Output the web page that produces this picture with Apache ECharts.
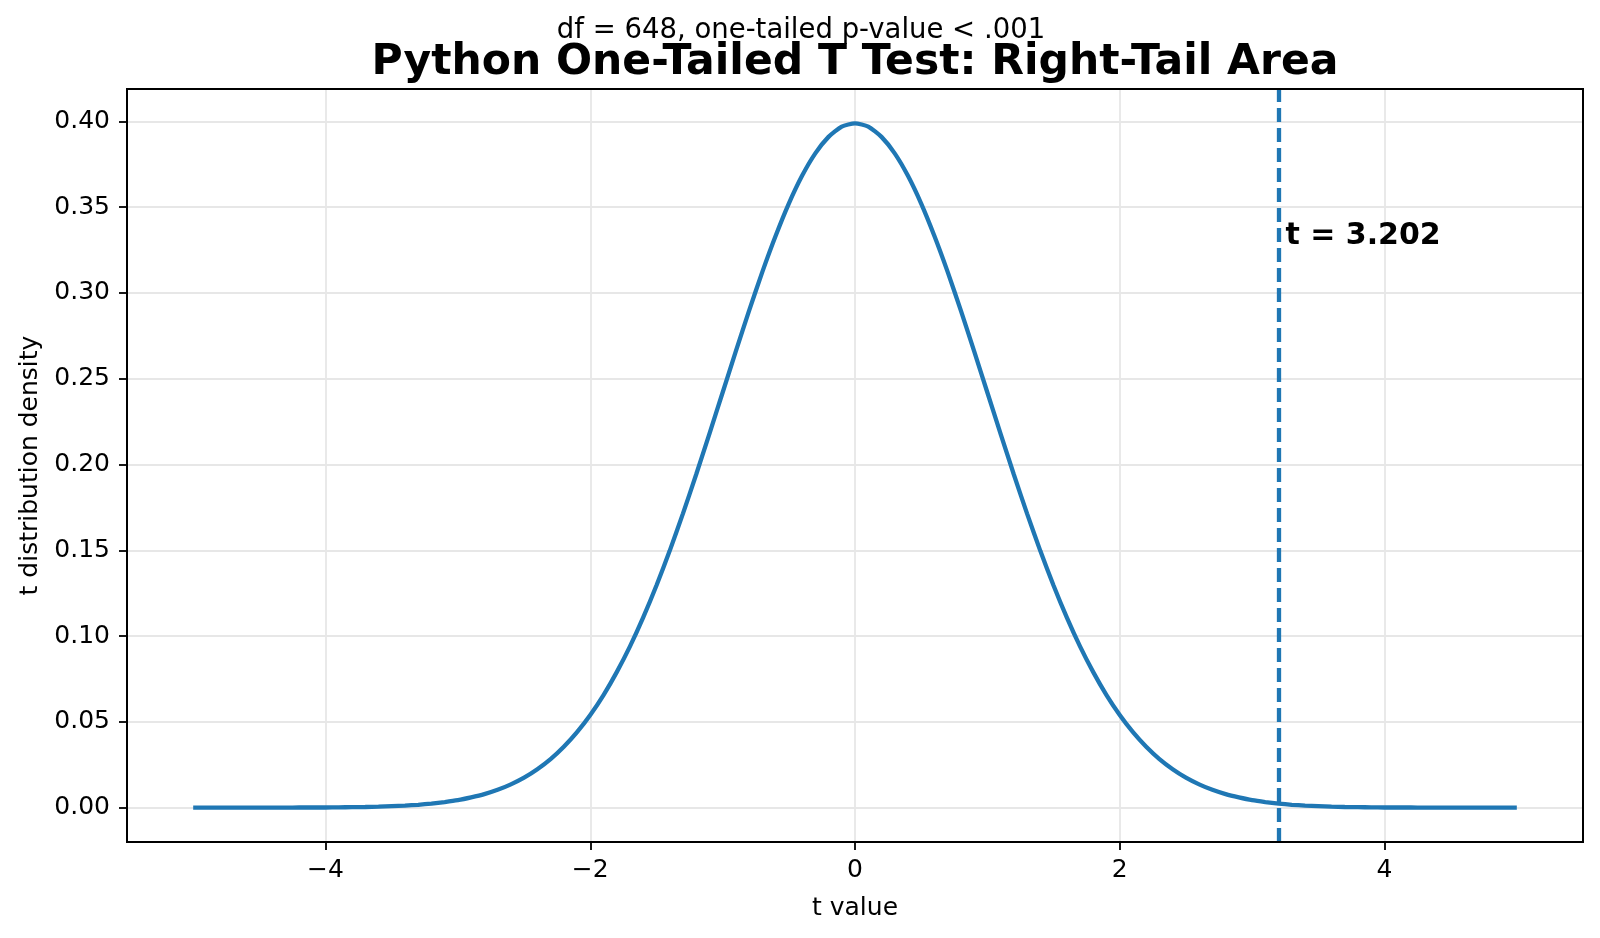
<!DOCTYPE html>
<html>
<head>
<meta charset="utf-8">
<script src="https://cdn.jsdelivr.net/npm/echarts@6/dist/echarts.min.js"></script>
<style>
html,body{margin:0;padding:0;background:#fff;}
#chart{width:1600px;height:938px;}
</style>
</head>
<body>
<div id="chart"></div>
<script>
// ---- data ----
const tValues = [-5.0,-4.9,-4.8,-4.7,-4.6,-4.5,-4.4,-4.3,-4.2,-4.1,-4.0,-3.9,-3.8,-3.7,-3.6,-3.5,-3.4,-3.3,-3.2,-3.1,-3.0,-2.9,-2.8,-2.7,-2.6,-2.5,-2.4,-2.3,-2.2,-2.1,-2.0,-1.9,-1.8,-1.7,-1.6,-1.5,-1.4,-1.3,-1.2,-1.1,-1.0,-0.9,-0.8,-0.7,-0.6,-0.5,-0.4,-0.3,-0.2,-0.1,0.0,0.1,0.2,0.3,0.4,0.5,0.6,0.7,0.8,0.9,1.0,1.1,1.2,1.3,1.4,1.5,1.6,1.7,1.8,1.9,2.0,2.1,2.2,2.3,2.4,2.5,2.6,2.7,2.8,2.9,3.0,3.1,3.2,3.3,3.4,3.5,3.6,3.7,3.8,3.9,4.0,4.1,4.2,4.3,4.4,4.5,4.6,4.7,4.8,4.9,5.0];
const density = [0.0000,0.0000,0.0000,0.0000,0.0000,0.0000,0.0000,0.0000,0.0001,0.0001,0.0001,0.0002,0.0003,0.0004,0.0006,0.0009,0.0012,0.0017,0.0024,0.0033,0.0044,0.0060,0.0079,0.0104,0.0136,0.0175,0.0224,0.0283,0.0355,0.0440,0.0540,0.0656,0.0790,0.0940,0.1109,0.1295,0.1497,0.1714,0.1942,0.2179,0.2420,0.2661,0.2897,0.3123,0.3332,0.3521,0.3683,0.3814,0.3910,0.3970,0.3989,0.3970,0.3910,0.3814,0.3683,0.3521,0.3332,0.3123,0.2897,0.2661,0.2420,0.2179,0.1942,0.1714,0.1497,0.1295,0.1109,0.0940,0.0790,0.0656,0.0540,0.0440,0.0355,0.0283,0.0224,0.0175,0.0136,0.0104,0.0079,0.0060,0.0044,0.0033,0.0024,0.0017,0.0012,0.0009,0.0006,0.0004,0.0003,0.0002,0.0001,0.0001,0.0001,0.0000,0.0000,0.0000,0.0000,0.0000,0.0000,0.0000,0.0000];
const xTicks = [-4, -2, 0, 2, 4];
const yTicks = [0.00, 0.05, 0.10, 0.15, 0.20, 0.25, 0.30, 0.35, 0.40];
const tStat = 3.202;
const annotX = 3.252;
const annotY = 0.33;
const titleText = 'Python One-Tailed T Test: Right-Tail Area';
const subtitleText = 'df = 648, one-tailed p-value < .001';
const annotText = 't = 3.202';
const xName = 't value';
const yName = 't distribution density';

// ---- chart ----
const FONT = 'DejaVu Sans';
const blue = '#1f77b4';
const gridColor = '#e7e7e7';
const chart = echarts.init(document.getElementById('chart'), null, {renderer: 'canvas'});
const fmtX = v => (v < 0 ? '\u2212' + Math.abs(v) : String(v));
const curve = tValues.map((t, i) => [t, density[i]]);

const option = {
  backgroundColor: '#fff',
  animation: false,
  title: [
    {text: subtitleText, left: 796, top: 12, textAlign: 'center',
     textStyle: {fontFamily: FONT, fontWeight: 'normal', fontSize: 27.5, color: '#000'}},
    {text: titleText, left: 850, top: 36, textAlign: 'center',
     textStyle: {fontFamily: FONT, fontWeight: 'bold', fontSize: 42.5, color: '#000'}}
  ],
  grid: {left: 127, right: 17, top: 89, bottom: 96, containLabel: false,
         show: true, borderColor: '#000', borderWidth: 2, backgroundColor: 'transparent', z: 6},
  xAxis: {
    type: 'value', min: -5.5, max: 5.5,
    name: xName, nameLocation: 'middle', nameGap: 54,
    nameTextStyle: {fontFamily: FONT, fontSize: 25, color: '#000'},
    axisLine: {show: true, onZero: false, lineStyle: {color: '#000', width: 2}},
    axisTick: {show: true, customValues: xTicks, length: 8, lineStyle: {color: '#000', width: 1.8}},
    axisLabel: {customValues: xTicks, formatter: fmtX, margin: 16,
                fontFamily: FONT, fontSize: 25, color: '#000'},
    splitLine: {show: false}
  },
  yAxis: {
    type: 'value', min: -0.02, max: 0.4189,
    name: yName, nameLocation: 'middle', nameGap: 80, nameRotate: 90,
    nameTextStyle: {fontFamily: FONT, fontSize: 25, color: '#000'},
    axisLine: {show: true, onZero: false, lineStyle: {color: '#000', width: 2}},
    axisTick: {show: true, customValues: yTicks, length: 8, lineStyle: {color: '#000', width: 1.8}},
    axisLabel: {customValues: yTicks, formatter: v => v.toFixed(2), margin: 17,
                fontFamily: FONT, fontSize: 25, color: '#000'},
    splitLine: {show: false}
  },
  series: [
    {
      type: 'line', data: [], z: 1, silent: true,
      markLine: {
        z: 1, silent: true, symbol: 'none', animation: false, label: {show: false},
        lineStyle: {color: gridColor, width: 1.8, type: 'solid', opacity: 1},
        emphasis: {disabled: true},
        data: [
          ...xTicks.map(v => ({xAxis: v})),
          ...yTicks.map(v => ({yAxis: v}))
        ]
      }
    },
    {
      type: 'line', data: curve, z: 3, showSymbol: false, smooth: 0.2,
      lineStyle: {color: blue, width: 4.3}, silent: true
    },
    {
      type: 'line', data: [], z: 4, silent: true,
      markLine: {
        z: 4, silent: true, symbol: 'none', animation: false, label: {show: false},
        lineStyle: {color: blue, width: 4.3, type: [14, 6], opacity: 1},
        emphasis: {disabled: true},
        data: [{xAxis: tStat}]
      },
      markPoint: {
        z: 5, silent: true, animation: false, symbol: 'circle', symbolSize: 0,
        itemStyle: {color: 'rgba(0,0,0,0)'},
        label: {show: true, formatter: annotText, position: [0, 0], align: 'left', verticalAlign: 'bottom',
                offset: [0, 10], textBorderWidth: 0, opacity: 1,
                fontFamily: FONT, fontWeight: 'bold', fontSize: 30, color: '#000'},
        data: [{coord: [annotX, annotY]}]
      }
    }
  ]
};
chart.setOption(option);
</script>
</body>
</html>
